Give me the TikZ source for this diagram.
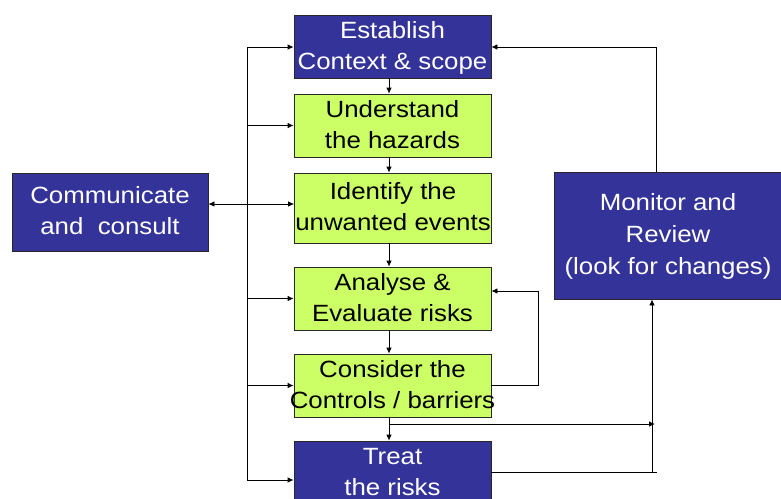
\documentclass[tikz,border=0pt]{standalone}
\usepackage{fontspec}
\setmainfont{Liberation Sans}[FakeStretch=1.1]
\usetikzlibrary{arrows.meta}
\definecolor{boxblue}{RGB}{51,51,153}
\definecolor{boxgreen}{RGB}{204,255,102}
\definecolor{edge}{RGB}{40,40,40}
\newcommand{\bs}{\rule[-6pt]{0pt}{26pt}}
\tikzset{
  base/.style={draw=edge, line width=0.8pt, inner sep=0pt, align=center,
    font=\fontsize{23.5}{31}\selectfont},
  bluebox/.style={base, fill=boxblue, text=white},
  greenbox/.style={base, fill=boxgreen, text=black},
  conn/.style={draw=black, line width=0.8pt},
  arr/.style={conn, -{Latex[length=6pt,width=5.5pt]}},
  darr/.style={conn, {Latex[length=6pt,width=5.5pt]}-{Latex[length=6pt,width=5.5pt]}}
}
\begin{document}
\begin{tikzpicture}[x=1pt,y=-1pt]
\useasboundingbox (0,0) rectangle (781,498);
\fill[white] (0,0) rectangle (781,498);

\node[bluebox, minimum width=197pt, minimum height=63pt] (est) at (392.5,46.5) {\bs Establish\\Context \& scope\bs};
\node[greenbox, minimum width=197pt, minimum height=63pt] (und) at (392.5,125.5) {\bs Understand\\the hazards\bs};
\node[greenbox, minimum width=197pt, minimum height=70pt] (ide) at (393,208) {\bs Identify the\\\makebox[150pt]{unwanted events}\bs};
\node[greenbox, minimum width=197pt, minimum height=63pt] (ana) at (392.5,298.5) {\bs Analyse \&\\Evaluate risks\bs};
\node[greenbox, minimum width=197pt, minimum height=63pt] (con) at (392.5,385.5) {\bs Consider the\\\makebox[150pt]{Controls / barriers}\bs};
\node[bluebox, minimum width=197pt, minimum height=63pt] (tre) at (392.5,472.5) {\bs Treat\\the risks\bs};
\node[bluebox, minimum width=196pt, minimum height=78pt] (com) at (110,212) {\bs Communicate\\and\ \ consult\bs};
\node[bluebox, minimum width=228pt, minimum height=127pt, font=\fontsize{23.5}{32}\selectfont] (mon) at (668,235.5) {\bs Monitor and\\Review\\(look for changes)\bs};

% left bus
\coordinate (bT) at (247,47);
\coordinate (bB) at (247,480);
\draw[conn] (bT) -- (bB);
\draw[arr] (bT) -- (bT -| est.west);
\draw[arr] (und.west -| bT) -- (und.west);
\draw[arr] (ana.west -| bT) -- (ana.west);
\draw[arr] (con.west -| bT) -- (con.west);
\draw[arr] (bB) -- (bB -| tre.west);

% communicate
\coordinate (ci) at (0,204);
\draw[darr] (ci -| com.east) -- (ci -| ide.west);

% vertical chain
\coordinate (vx) at (389,0);
\draw[arr] (vx |- est.south) -- (vx |- und.north);
\draw[arr] (vx |- und.south) -- (vx |- ide.north);
\draw[arr] (vx |- ide.south) -- (vx |- ana.north);
\draw[arr] (vx |- ana.south) -- (vx |- con.north);
\draw[arr] (vx |- con.south) -- (vx |- tre.north);

% feedback consider -> analyse
\coordinate (fb) at (538,291);
\draw[arr] (con.east) -| (fb) -- (fb -| ana.east);

% branch to monitor
\coordinate (m1) at (389,424);
\coordinate (m2) at (655,424);
\draw[arr] (m1) -- (m2);

% treat -> monitor
\coordinate (t1) at (657,472);
\coordinate (t2) at (652,472);
\draw[conn] (t1 -| tre.east) -- (t1);
\draw[arr] (t2) -- (t2 |- mon.south);

% monitor -> establish
\coordinate (mt) at (656,47);
\draw[arr] (mt |- mon.north) -- (mt) -- (mt -| est.east);
\end{tikzpicture}
\end{document}
